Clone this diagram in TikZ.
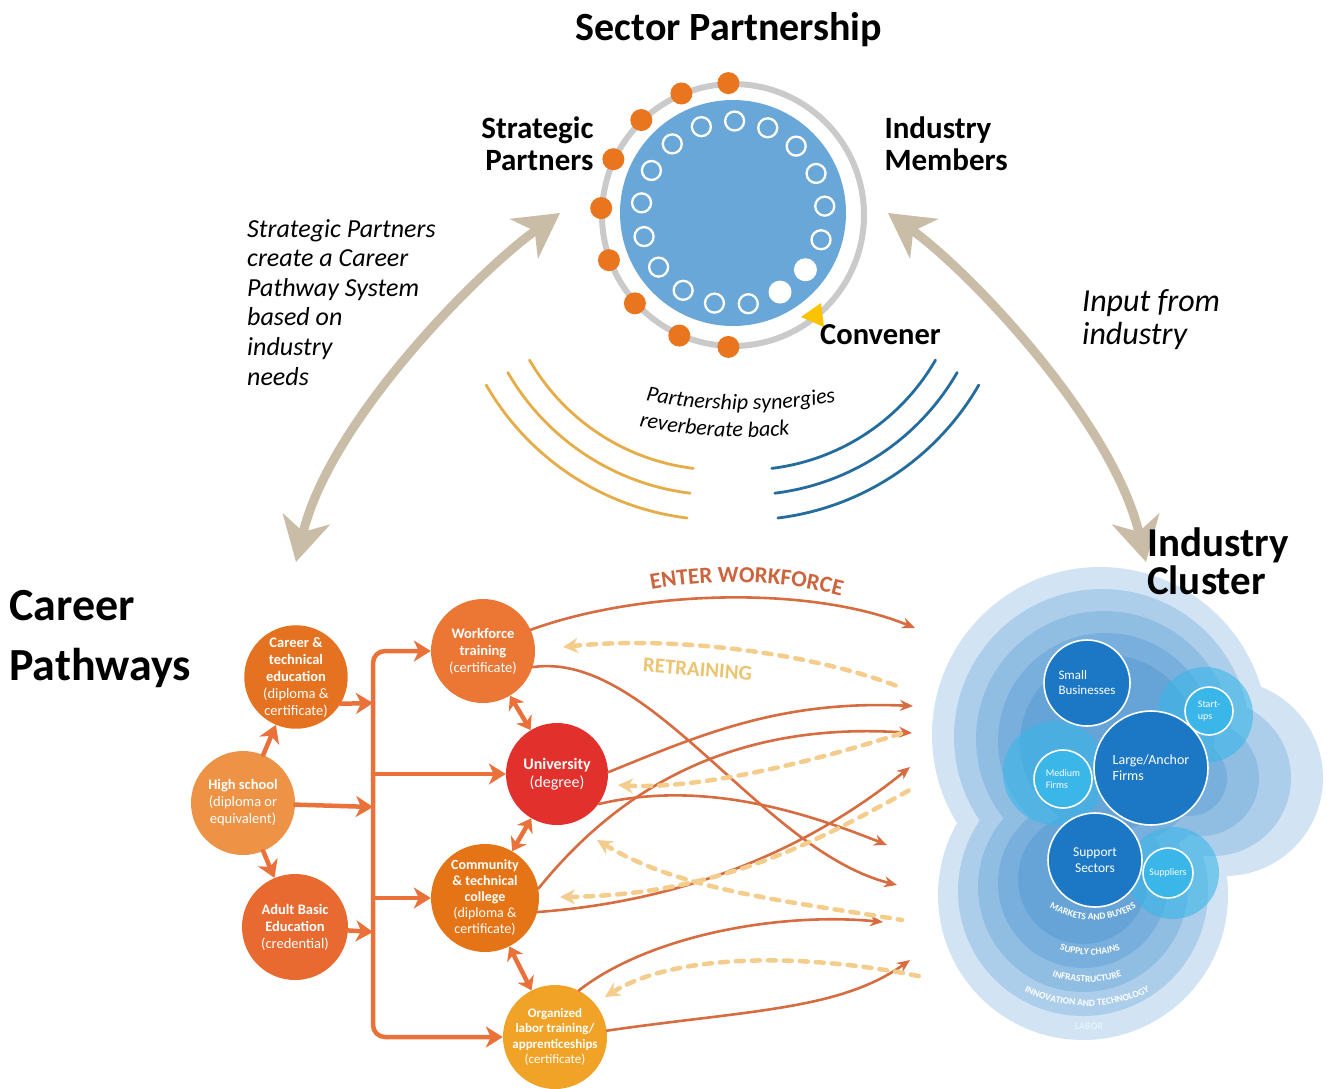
\documentclass[tikz,border=0pt]{standalone}
\usepackage{fontspec}
\setmainfont{Carlito}
\usetikzlibrary{arrows.meta,calc,decorations.text,positioning}

\definecolor{ptan}{RGB}{201,189,168}
\definecolor{pring}{RGB}{202,202,202}
\definecolor{pblue}{RGB}{104,167,216}
\definecolor{pdot}{RGB}{233,118,30}
\definecolor{pconv}{RGB}{252,196,0}
\definecolor{parcy}{RGB}{230,172,72}
\definecolor{parcb}{RGB}{36,108,158}
\definecolor{pbus}{RGB}{234,114,58}
\definecolor{pflow}{RGB}{214,108,64}
\definecolor{pdash}{RGB}{244,204,140}
\definecolor{pwork}{RGB}{204,100,62}
\definecolor{pretr}{RGB}{236,196,112}
\definecolor{pcte}{RGB}{229,114,32}
\definecolor{phs}{RGB}{238,146,70}
\definecolor{pabe}{RGB}{232,106,48}
\definecolor{pwf}{RGB}{236,118,52}
\definecolor{puni}{RGB}{226,48,44}
\definecolor{pcc}{RGB}{229,116,22}
\definecolor{porg}{RGB}{241,163,40}
\definecolor{ccore}{RGB}{28,120,196}
\definecolor{ccyan}{RGB}{58,182,232}

\newcommand\fs[1]{\fontsize{#1}{#1}\selectfont}
\tikzset{
  stage/.style={circle,minimum size=#1,inner sep=0pt,text=white,align=center,
    font=\fontsize{14.5}{17}\selectfont},
  bus/.style={pbus,line width=4.5pt,-{Stealth[length=17pt,width=21pt,inset=5pt]}},
  twoway/.style={pbus,line width=4.5pt,{Stealth[length=13pt,width=18pt,inset=4pt]}-{Stealth[length=13pt,width=18pt,inset=4pt]}},
  flow/.style={pflow,line width=2.6pt,-{Stealth[length=13pt,width=11pt]}},
  retrain/.style={pdash,line width=4.5pt,dash pattern=on 8pt off 8pt,{Stealth[length=15pt,width=15pt]}-},
  firm/.style={circle,draw=white,line width=1.6pt,inner sep=0pt,text=white,align=left,minimum size=#1},
  bigarrow/.style={ptan,line width=9pt,{Stealth[length=44pt,width=48pt,inset=13pt]}-{Stealth[length=44pt,width=48pt,inset=13pt]}},
  ring text/.style={decorate,decoration={text along path,text align=center,text color=white,
    text={|\bfseries\fs{9.5}|#1}}}
}

\begin{document}
\begin{tikzpicture}[x=1pt,y=-1pt,line cap=round]
\useasboundingbox (0,0) rectangle (1327,1088);

\node[font=\bfseries\fs{40}] (title) at (729,30) {Sector Partnership};
\draw[pring,line width=6pt] (733,215) circle (131);
\fill[pblue] (733,213) circle (113);
\foreach \a in {-92,-113,-134,-155,-177,160,138,114,92}
  \fill[pdot] (733,215) ++(\a:132) circle (11);
\foreach \k in {0,1,2,3,4,5,8,9,10,11,12,13,14,15,16}
  \draw[white,line width=2.3pt] (733,213) ++({-89+21.18*\k}:92) circle (9.5);
\foreach \k in {6,7}
  \fill[white] (733,213) ++({-89+21.18*\k}:92) circle (11.5);
\fill[pconv] (801,317)--(821,303)--(824,327)--cycle;
\node[font=\bfseries\fontsize{31}{32}\selectfont,align=right,anchor=east] (strat) at (597,144) {Strategic\\Partners};
\node[font=\bfseries\fontsize{31}{32}\selectfont,align=left,anchor=west] (indm) at (881,144) {Industry\\Members};
\node[font=\bfseries\fs{30.5},anchor=west,inner sep=0pt] (conv) at (820,335) {Convener};

\node[font=\itshape\fontsize{26}{29.6}\selectfont,align=left,anchor=north west,inner sep=0pt] (why) at (247,219)
  {Strategic Partners\\create a Career\\Pathway System\\based on\\industry\\needs};
\node[font=\itshape\fontsize{32}{33}\selectfont,align=left,anchor=north west,inner sep=0pt] (input) at (1082,289)
  {Input from\\industry};

\coordinate (lb) at (296,562);
\coordinate (lt) at (560,213);
\coordinate (rb) at (1146,562);
\coordinate (rt) at (888,213);
\draw[bigarrow] (lb) .. controls (330,420) and (480,270) .. (lt);
\draw[bigarrow] (rb) .. controls (1112,420) and (968,270) .. (rt);

\foreach \r in {220,245,270}
  \draw[parcy,line width=2.8pt] (720,250) ++(150:\r) arc[start angle=150,end angle=97,radius=\r];
\foreach \r in {220,245,270}
  \draw[parcb,line width=2.8pt] (745,250) ++(30:\r) arc[start angle=30,end angle=83,radius=\r];
\path[decorate,decoration={text along path,text align=center,text={|\itshape\fs{22}|Partnership synergies}}]
  (745,-100) ++(106:510) arc[start angle=106,end angle=75,radius=510];
\path[decorate,decoration={text along path,text align=center,text={|\itshape\fs{22}|reverberate back}}]
  (745,-100) ++(106:537) arc[start angle=106,end angle=80.6,radius=537];

\node[font=\bfseries\fontsize{46}{60}\selectfont,align=left,anchor=north west,inner sep=0pt] (cp) at (9,590) {Career\\Pathways};

\node[stage=102pt,fill=pcte] (cte) at (296,677) {\textbf{Career \&}\\\textbf{technical}\\\textbf{education}\\(diploma \&\\certificate)};
\node[stage=104pt,fill=phs] (hs) at (243,803) {\textbf{High school}\\(diploma or\\equivalent)};
\node[stage=106pt,fill=pabe] (abe) at (295,927) {\textbf{Adult Basic}\\\textbf{Education}\\(credential)};
\node[stage=104pt,fill=pwf] (wf) at (483,651) {\textbf{Workforce}\\\textbf{training}\\(certificate)};
\node[stage=102pt,fill=puni,font=\fontsize{16}{18}\selectfont] (uni) at (557,774) {\textbf{University}\\(degree)};
\node[stage=108pt,fill=pcc,font=\fontsize{14}{16}\selectfont] (cc) at (485,898) {\textbf{Community}\\\textbf{\& technical}\\\textbf{college}\\(diploma \&\\certificate)};
\node[stage=104pt,fill=porg,font=\fontsize{13}{15.5}\selectfont] (org) at (555,1037) {\textbf{Organized}\\\textbf{labor training/}\\\textbf{apprenticeships}\\(certificate)};

\coordinate (b1) at (373,703);
\coordinate (b2) at (373,807);
\coordinate (b3) at (373,932);
\draw[bus,rounded corners=12pt] (373,780) |- (wf);
\draw[bus,rounded corners=12pt] (373,780) |- (org);
\draw[bus] (373,774) -- (uni);
\draw[bus] (373,898) -- (cc);
\draw[bus] (cte.-31) -- (b1);
\draw[bus] (hs) -- (b2);
\draw[bus] (abe) -- (b3);
\draw[bus] (hs) -- (cte);
\draw[bus] (hs) -- (abe);
\draw[twoway] (wf) -- (uni);
\draw[twoway] (cc) -- (uni);
\draw[twoway] (cc) -- (org);

\coordinate (e1) at (915,628);
\coordinate (e2) at (897,885);
\coordinate (e3) at (913,706);
\coordinate (e4) at (912,733);
\coordinate (e5) at (887,845);
\coordinate (e6) at (910,767);
\coordinate (e7) at (883,922);
\coordinate (e8) at (910,960);
\draw[flow] (wf.24) .. controls (640,590) and (810,585) .. (e1);
\draw[flow] (wf.-18) .. controls (650,650) and (760,850) .. (e2);
\draw[flow] (uni.2) .. controls (700,735) and (780,700) .. (e3);
\draw[flow] (cc.10) .. controls (610,800) and (720,720) .. (e4);
\draw[flow] (uni.-36) .. controls (700,780) and (800,810) .. (e5);
\draw[flow] (cc.-15) .. controls (700,900) and (820,840) .. (e6);
\draw[flow] (org.63) .. controls (650,935) and (780,912) .. (e7);
\draw[flow] (org.7) .. controls (750,1010) and (840,1010) .. (e8);

\coordinate (r1) at (563,647);  \coordinate (s1) at (902,688);
\coordinate (r2) at (618,785);  \coordinate (s2) at (902,733);
\coordinate (r3) at (560,897);  \coordinate (s3) at (915,787);
\coordinate (r4) at (597,840);  \coordinate (s4) at (902,920);
\coordinate (r5) at (605,997);  \coordinate (s5) at (923,977);
\draw[retrain] (r1) .. controls (680,635) and (820,655) .. (s1);
\draw[retrain] (r2) .. controls (700,790) and (820,760) .. (s2);
\draw[retrain] (r3) .. controls (720,895) and (820,840) .. (s3);
\draw[retrain] (r4) .. controls (680,890) and (780,900) .. (s4);
\draw[retrain] (r5) .. controls (680,950) and (820,955) .. (s5);

\path[decorate,decoration={text along path,text align=center,text color=pwork,text={|\bfseries\fs{23}|ENTER WORKFORCE}}]
  (630,594) .. controls (705,576) and (790,578) .. (862,602);
\path[decorate,decoration={text along path,text align=center,text color=pretr,text={|\bfseries\fs{21}|RETRAINING}}]
  (622,670) -- (772,682);

\foreach \k in {0,...,4}
  \fill[ccore,fill opacity=0.2] (1100+2*\k,735+2*\k) circle[radius=168-20*\k] (1083,895-4*\k) circle[radius=145-20*\k]
    (1225-12*\k,778) circle[radius=98-20*\k];
\fill[ccyan,fill opacity=0.6] (1205,715) circle (48) (1055,773) circle (52) (1173,873) circle (46);

\node[firm=86pt,fill=ccore,font=\fontsize{13}{15}\selectfont] (small) at (1087,683) {Small\\Businesses};
\node[firm=114pt,fill=ccore,font=\fontsize{14}{16}\selectfont] (large) at (1151,768) {Large/Anchor\\Firms};
\node[firm=94pt,fill=ccore,font=\fontsize{13.5}{15.5}\selectfont,align=center] (supp) at (1095,860) {Support\\Sectors};
\node[firm=58pt,fill=ccyan,font=\fontsize{10}{11.5}\selectfont] (med) at (1063,779) {Medium\\Firms};
\node[firm=48pt,fill=ccyan,font=\fontsize{10}{11.5}\selectfont] (start) at (1209,711) {Start-\\ups};
\node[firm=50pt,fill=ccyan,font=\fontsize{10}{11.5}\selectfont] (sup) at (1168,873) {Suppliers};

\path[ring text=MARKETS AND BUYERS] (1093,838) ++(140:82) arc[start angle=140,end angle=40,radius=82];
\path[ring text=SUPPLY CHAINS] (1090,865) ++(130:90) arc[start angle=130,end angle=50,radius=90];
\path[ring text=INFRASTRUCTURE] (1087,872) ++(125:110) arc[start angle=125,end angle=55,radius=110];
\path[ring text=INNOVATION AND TECHNOLOGY] (1087,862) ++(140:144) arc[start angle=140,end angle=40,radius=144];
\node[font=\bfseries\fs{10},text=white!85!ccyan] (labor) at (1089,1026) {LABOR};

\node[font=\bfseries\fontsize{41}{38}\selectfont,align=left,anchor=north west,inner sep=0pt] (ic) at (1147,528) {Industry\\Cluster};
\end{tikzpicture}
\end{document}
